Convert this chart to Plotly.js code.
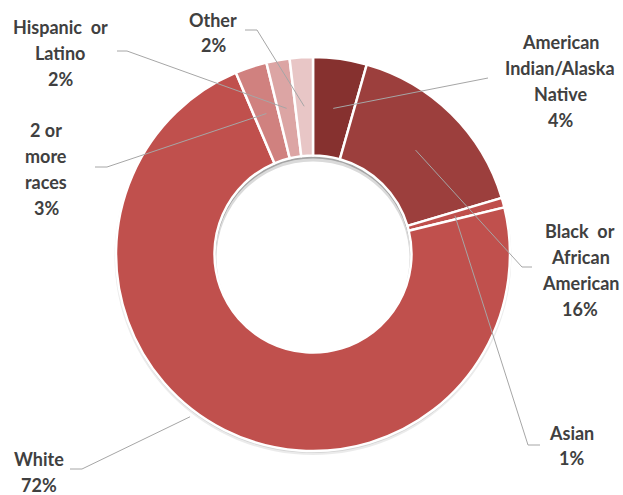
<!DOCTYPE html>
<html>
<head>
<meta charset="utf-8">
<script src="https://cdn.plot.ly/plotly-3.0.1.min.js"></script>
<style>html,body{margin:0;padding:0;background:#fff;}#chart{width:623px;height:495px;}</style>
</head>
<body>
<div id="chart"></div>
<script>
// ---- data ----
const categories = ["American Indian/Alaska Native", "Black or African American", "Asian", "White", "2 or more races", "Hispanic or Latino", "Other"];
const values = [4.4, 16.0, 0.8, 72.4, 2.6, 1.9, 1.9];
const labelLines = [
  ["American", "Indian/Alaska", "Native"],
  ["Black\u00a0 or", "African", "American"],
  ["Asian"],
  ["White"],
  ["2 or", "more", "races"],
  ["Hispanic\u00a0 or", "Latino"],
  ["Other"]
];

// ---- styling / layout ----
const colors = ["#86312f", "#9c3f3d", "#bf4f4c", "#c0504d", "#d0817f", "#dca5a4", "#e8c6c6"];
const W = 623, H = 495;
const CX = 313, CY = 254, R = 197, HOLE = 0.5;
// label placement (pixels): centre x, first-line y, line spacing
const labelPos = [
  {x: 560, y: 42, dy: 26},
  {x: 580, y: 231, dy: 26},
  {x: 571, y: 433, dy: 25},
  {x: 39, y: 459, dy: 26},
  {x: 46, y: 130, dy: 26},
  {x: 60, y: 27, dy: 26},
  {x: 213, y: 20, dy: 25}
];
// leader: start near text, elbow, anchor radius (px) and fraction within slice
const leaders = [
  {s: [488, 78], e: [488, 78], r: 147, t: 0.5},
  {s: [532, 267], e: [522, 267], r: 146, t: 0.5},
  {s: [540, 445], e: [528, 445], r: 147, t: 0.5},
  {s: [70, 469], e: [82, 469], r: 204, t: 0.54},
  {s: [95, 167], e: [107, 167], r: 148, t: 0.5},
  {s: [117, 51], e: [127, 51], r: 148, t: 0.5},
  {s: [245, 30], e: [257, 30], r: 148, t: 0.5}
];

const fx = x => x / W;
const fy = y => 1 - y / H;
const total = values.reduce((a, b) => a + b, 0);

const annotations = [];
const shapes = [];

// soft shadow under the ring, and inner shadow at the top of the hole
const circ = (cx, cy, r, fill) => ({type: 'circle', xref: 'paper', yref: 'paper', layer: 'below',
  x0: fx(cx - r), x1: fx(cx + r), y0: fy(cy + r), y1: fy(cy - r), fillcolor: fill, line: {width: 0}});
shapes.push(circ(CX, CY + 2.5, R + 1.5, 'rgba(0,0,0,0.08)'));
shapes.push(circ(CX, CY + 1.5, R + 0.5, 'rgba(0,0,0,0.10)'));
const RH = R * HOLE;
shapes.push(circ(CX, CY, RH, 'rgba(0,0,0,0.22)'));
shapes.push(circ(CX, CY + 2, RH - 1, 'rgba(255,255,255,0.6)'));
shapes.push(circ(CX, CY + 4, RH - 2, '#ffffff'));

let cum = 0;
values.forEach((v, i) => {
  const frac = (cum + v * leaders[i].t) / total;
  cum += v;
  const th = 2 * Math.PI * frac;
  const tx = CX + leaders[i].r * Math.sin(th);
  const ty = CY - leaders[i].r * Math.cos(th);
  const L = leaders[i];
  shapes.push({type: 'path', xref: 'paper', yref: 'paper', layer: 'above',
    path: `M ${fx(L.s[0])},${fy(L.s[1])} L ${fx(L.e[0])},${fy(L.e[1])} L ${fx(tx)},${fy(ty)}`,
    line: {color: '#a6a6a6', width: 1}});
  const lines = labelLines[i].concat([Math.round(v / total * 100) + '%']);
  const p = labelPos[i];
  lines.forEach((t, k) => {
    annotations.push({xref: 'paper', yref: 'paper', x: fx(p.x), y: fy(p.y + k * p.dy),
      xanchor: 'center', yanchor: 'middle', showarrow: false, text: '<b>' + t + '</b>',
      font: {family: 'Lato, "Open Sans", sans-serif', size: 18, color: '#404040'}});
  });
});

const trace = {
  type: 'pie',
  labels: categories,
  values: values,
  hole: HOLE,
  sort: false,
  direction: 'clockwise',
  rotation: 0,
  textinfo: 'none',
  hoverinfo: 'label+percent',
  marker: {colors: colors, line: {color: '#ffffff', width: 2.5}},
  domain: {x: [fx(CX - R), fx(CX + R)], y: [fy(CY + R), fy(CY - R)]},
  showlegend: false
};

const layout = {
  width: W, height: H,
  margin: {l: 0, r: 0, t: 0, b: 0},
  paper_bgcolor: '#ffffff',
  showlegend: false,
  annotations: annotations,
  shapes: shapes
};

Plotly.newPlot('chart', [trace], layout, {displayModeBar: false, staticPlot: true});
</script>
</body>
</html>
